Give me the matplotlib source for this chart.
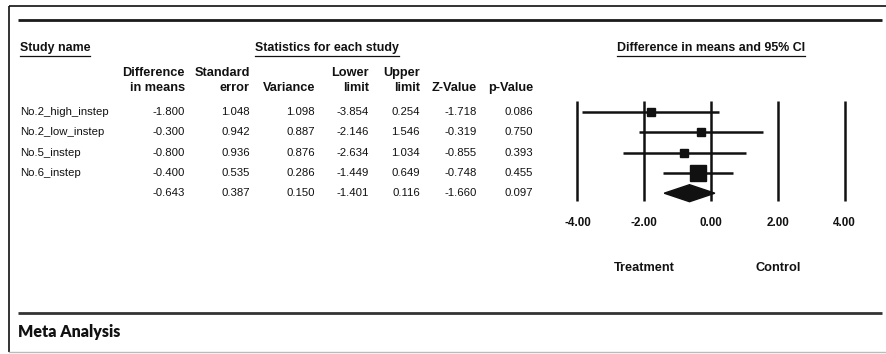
import numpy as np
import matplotlib
matplotlib.use("Agg")
import matplotlib.pyplot as plt
from matplotlib.patches import Polygon

# ---- data ----
studies = ["No.2_high_instep", "No.2_low_instep", "No.5_instep", "No.6_instep", ""]
diff_means = [-1.800, -0.300, -0.800, -0.400, -0.643]
std_error = [1.048, 0.942, 0.936, 0.535, 0.387]
variance = [1.098, 0.887, 0.876, 0.286, 0.150]
lower_limit = [-3.854, -2.146, -2.634, -1.449, -1.401]
upper_limit = [0.254, 1.546, 1.034, 0.649, 0.116]
z_value = [-1.718, -0.319, -0.855, -0.748, -1.660]
p_value = [0.086, 0.750, 0.393, 0.455, 0.097]
axis_ticks = [-4.0, -2.0, 0.0, 2.0, 4.0]
axis_tick_labels = ["-4.00", "-2.00", "0.00", "2.00", "4.00"]

W, H = 886, 354
DPI = 100
FONT = ["Liberation Sans", "DejaVu Sans"]
FS = 8.2          # body text
FS_SEC = 8.9      # underlined section headers
FS_COL = 9.2      # column headers and side labels
FS_TICK = 8.4
INK = "#111111"

fig = plt.figure(figsize=(W / DPI, H / DPI), dpi=DPI)
fig.patch.set_facecolor("white")

# Page layer in pixel coordinates
page = fig.add_axes([0, 0, 1, 1])
page.set_xlim(0, W)
page.set_ylim(H, 0)
page.axis("off")

# frame and rules
page.plot([9, W], [6, 6], color=INK, lw=1.2, solid_capstyle="butt")
page.plot([9, 9], [6, 352], color=INK, lw=1.2, solid_capstyle="butt")
page.plot([9, W], [352, 352], color="#bbbbbb", lw=1.0)
page.plot([18, 882], [20, 20], color="#1a1a1a", lw=2.0, solid_capstyle="butt")
page.plot([18, 882], [313, 313], color="#333333", lw=2.0, solid_capstyle="butt")


def txt(x, y, s, ha="left", bold=False, size=FS, family=FONT, va="center"):
    weight = bold if isinstance(bold, str) else ("bold" if bold else "normal")
    return page.text(x, y, s, ha=ha, va=va, fontsize=size,
                     fontweight=weight, family=family, color=INK)


# section headers (underlined)
hdrs = [
    txt(20, 48, "Study name", bold=True, size=FS_SEC),
    txt(327, 48, "Statistics for each study", ha="center", bold=True, size=FS_SEC),
    txt(711, 48, "Difference in means and 95% CI", ha="center", bold=True, size=FS_SEC),
]
fig.canvas.draw()
renderer = fig.canvas.get_renderer()
inv = page.transData.inverted()
for t in hdrs:
    bb = t.get_window_extent(renderer)
    (x0, _), (x1, _) = inv.transform([[bb.x0, bb.y0], [bb.x1, bb.y1]])
    page.plot([x0, x1], [56, 56], color=INK, lw=0.9)

# column headers
col_x = [185, 250, 315, 369, 420, 477, 533]
col_hdr = [("Difference", "in means"), ("Standard", "error"), ("", "Variance"),
           ("Lower", "limit"), ("Upper", "limit"), ("", "Z-Value"), ("", "p-Value")]
for x, (l1, l2) in zip(col_x, col_hdr):
    if l1:
        txt(x, 73, l1, ha="right", bold=True, size=FS_COL)
    txt(x, 88, l2, ha="right", bold=True, size=FS_COL)

# table rows
row_y = [112 + 20.3 * i for i in range(len(studies))]
columns = [diff_means, std_error, variance, lower_limit, upper_limit, z_value, p_value]
for i, y in enumerate(row_y):
    if studies[i]:
        txt(20, y, studies[i])
    for x, col in zip(col_x, columns):
        txt(x, y, f"{col[i]:.3f}", ha="right")

# ---- forest plot ----
px_per_unit = 33.4
zero_px = 711
fx0, fx1 = 560, 870
fy0, fy1 = 95, 240
ax = fig.add_axes([fx0 / W, 1 - fy1 / H, (fx1 - fx0) / W, (fy1 - fy0) / H])
ax.set_xlim((fx0 - zero_px) / px_per_unit, (fx1 - zero_px) / px_per_unit)
ax.set_ylim(fy1, fy0)
ax.patch.set_alpha(0)
for s in ax.spines.values():
    s.set_visible(False)
ax.set_xticks([])
ax.set_yticks([])

ax.vlines(axis_ticks, 101, 201, color=INK, lw=1.8)

weights = 1.0 / np.array(variance[:4])
sizes = 5.8 * np.sqrt(weights)
for i in range(4):
    y = row_y[i]
    ax.plot([lower_limit[i], upper_limit[i]], [y, y], color=INK, lw=1.8,
            solid_capstyle="butt")
    ax.plot(diff_means[i], y, marker="s", ms=sizes[i], color=INK, mec=INK)

# pooled diamond
yd = row_y[4]
hd = 8.5
ax.add_patch(Polygon([[lower_limit[4], yd], [diff_means[4], yd - hd],
                      [upper_limit[4], yd], [diff_means[4], yd + hd]],
                     closed=True, color=INK))

for xv, lab in zip(axis_ticks, axis_tick_labels):
    ax.text(xv, 223, lab, ha="center", va="center", family=FONT, fontsize=FS_TICK,
            fontweight="bold", color=INK, clip_on=False)
ax.text(-2, 268, "Treatment", ha="center", va="center", family=FONT, fontsize=FS_COL,
        fontweight="bold", color=INK, clip_on=False)
ax.text(2, 268, "Control", ha="center", va="center", family=FONT, fontsize=FS_COL,
        fontweight="bold", color=INK, clip_on=False)

# footer title
txt(18, 332, "Meta Analysis", bold="heavy", size=11.5, family=["Lato", "DejaVu Sans"])

fig.savefig("out.png", dpi=DPI, facecolor="white")
